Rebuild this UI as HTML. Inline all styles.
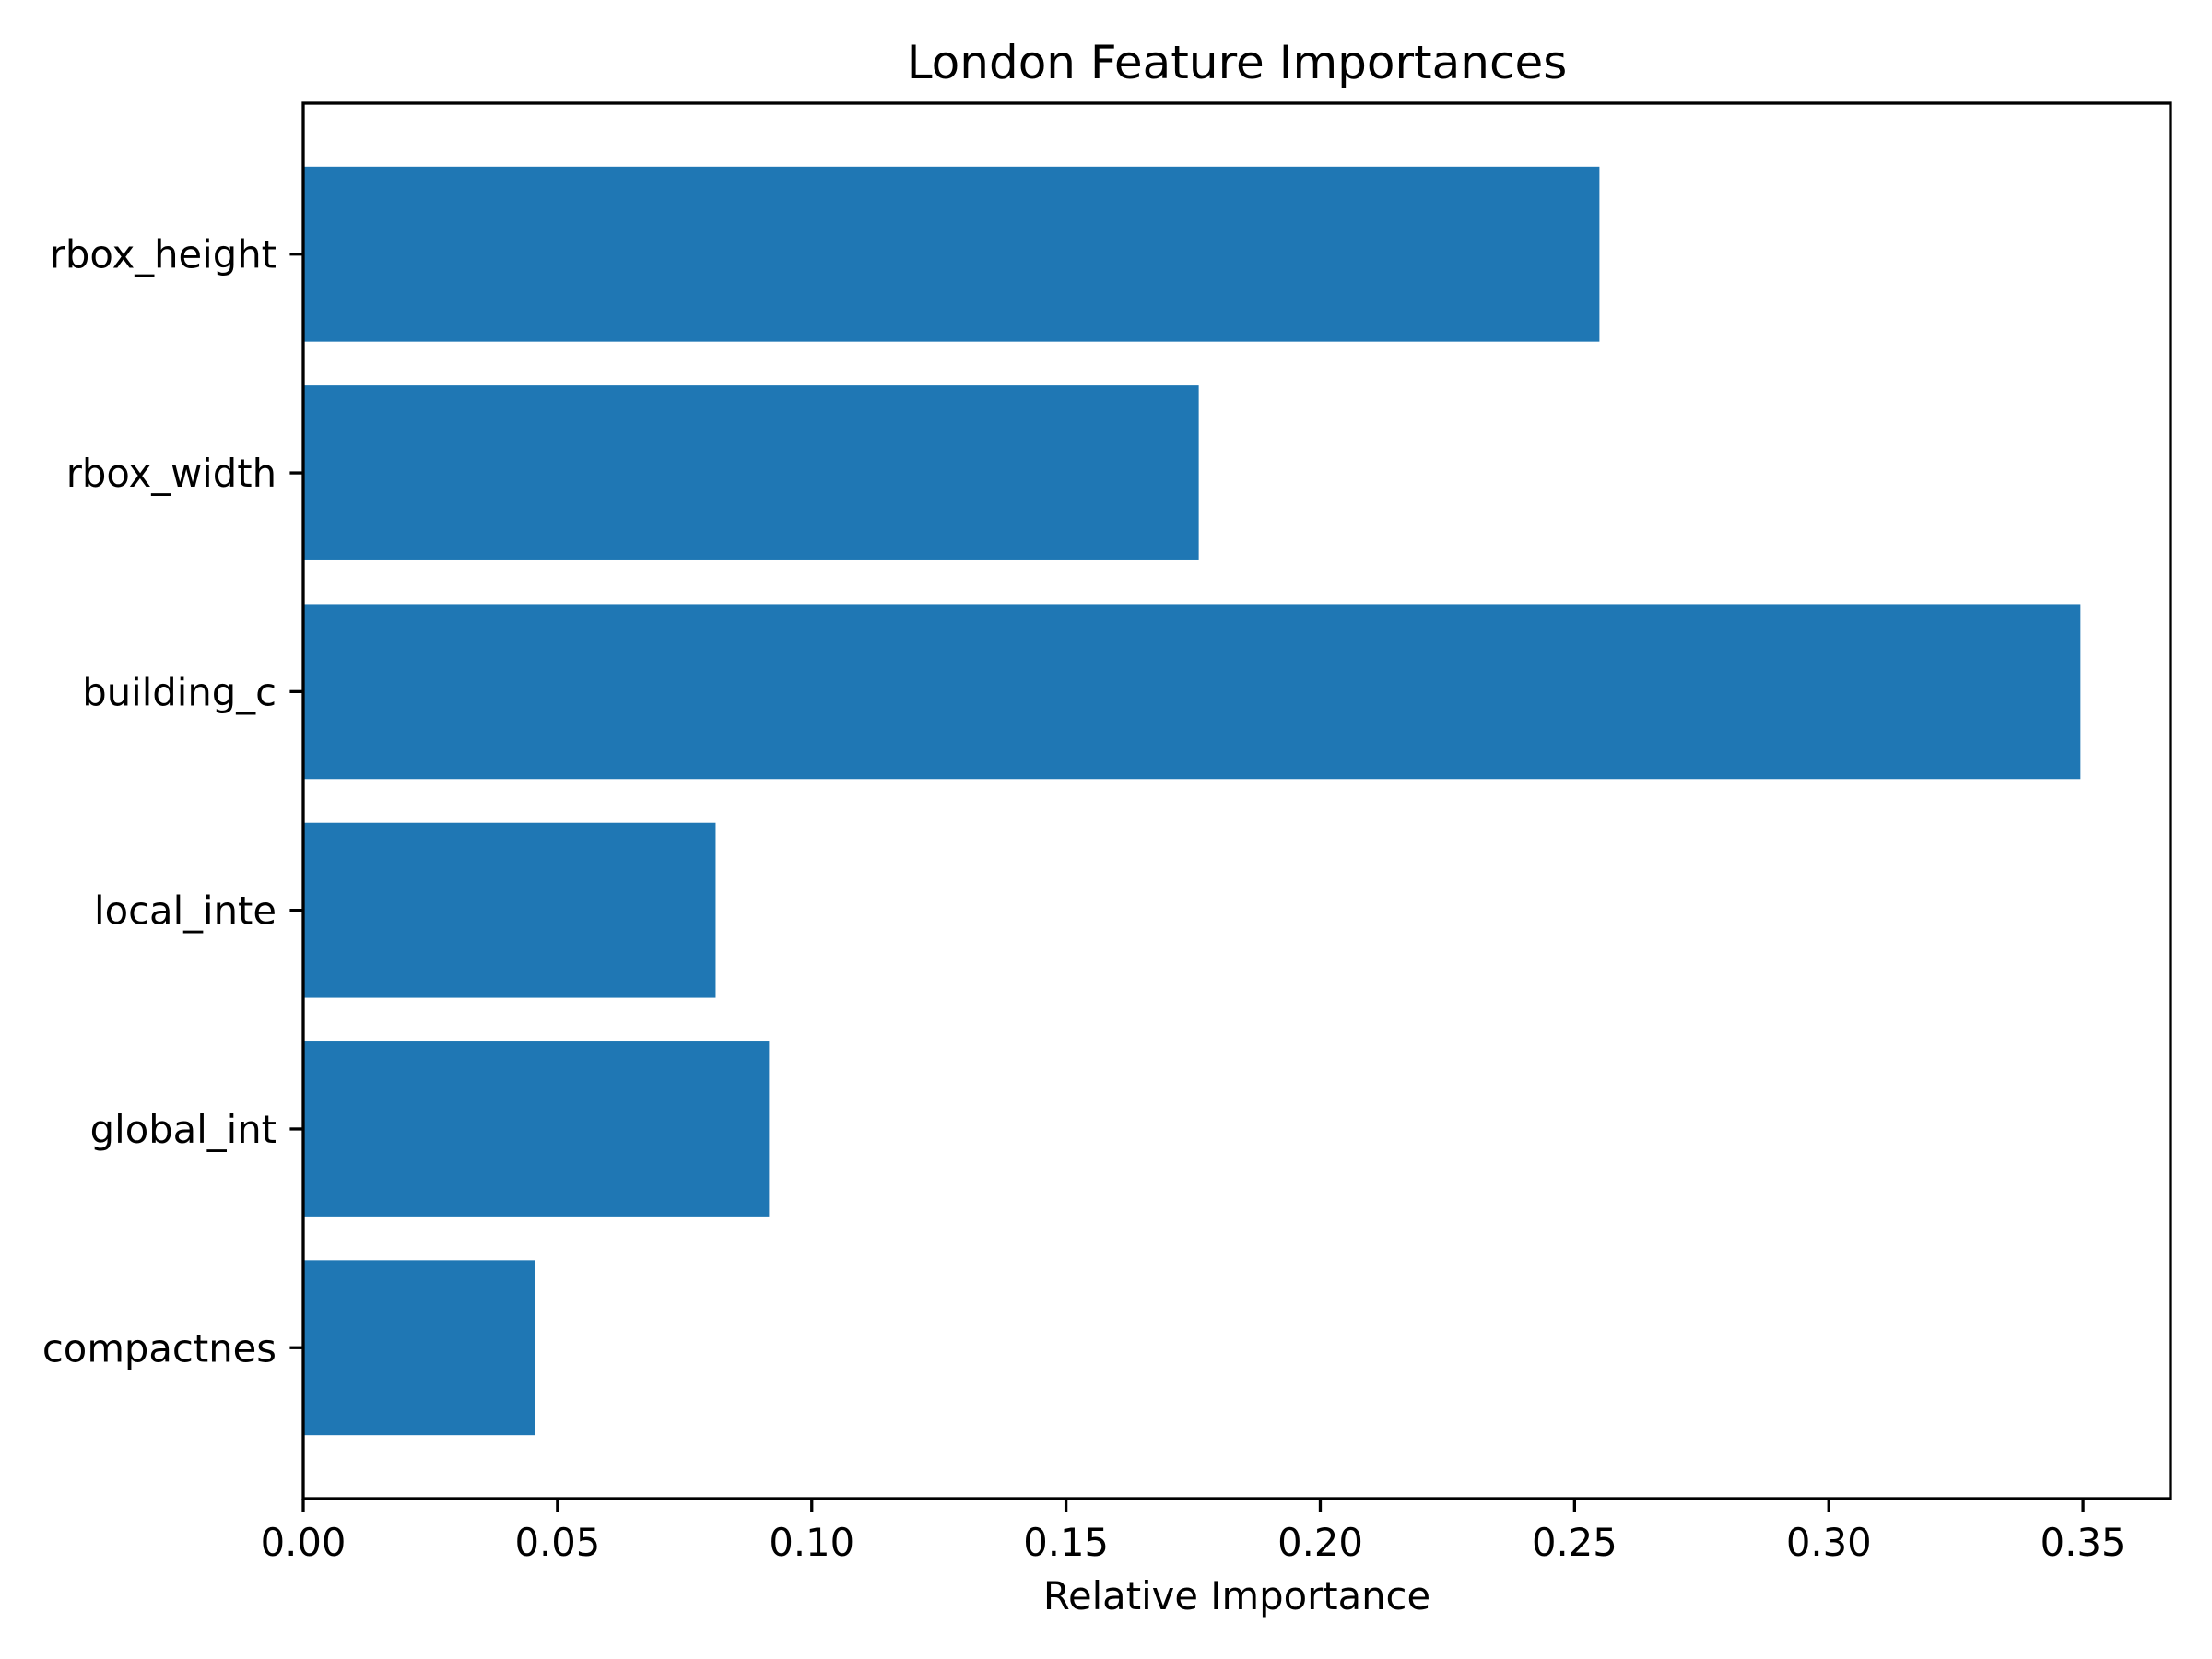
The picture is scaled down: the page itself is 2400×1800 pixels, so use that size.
<!DOCTYPE html>
<html><head><meta charset="utf-8"><style>html,body{margin:0;padding:0;background:#fff}svg{display:block}</style></head>
<body>
<svg id="chart" width="2400" height="1800" viewBox="0 0 2400 1800" xmlns="http://www.w3.org/2000/svg" font-family="DejaVu Sans, Liberation Sans, sans-serif">
<rect width="2400" height="1800" fill="#fff"/>
<text x="1342" y="85" font-size="50" text-anchor="middle" fill="#000">London Feature Importances</text>
<g id="bars"></g>
<g id="axes"></g>
<text x="1342" y="1746" font-size="41.7" text-anchor="middle" fill="#000">Relative Importance</text>
</svg>
<script>
const categories = ["rbox_height","rbox_width","building_c","local_inte","global_int","compactnes"];
const values = [0.2549, 0.1761, 0.3495, 0.0811, 0.0916, 0.0456];
const xTicks = [0, 0.05, 0.10, 0.15, 0.20, 0.25, 0.30, 0.35];
const xTickLabels = ["0.00","0.05","0.10","0.15","0.20","0.25","0.30","0.35"];

const L=329, R=2355, T=112, B=1626;
const xMax=0.3672;
const x = v => L + v/xMax*(R-L);
const n = categories.length;
const yMin=-0.69, yMax=n-1+0.69;
const y = i => T + (i - yMin)/(yMax-yMin)*(B-T);
const bandH = (B-T)/(yMax-yMin);
const NS="http://www.w3.org/2000/svg";
const bars=document.getElementById('bars'), axes=document.getElementById('axes');
function mk(tag, attrs, parent){const e=document.createElementNS(NS,tag);for(const k in attrs)e.setAttribute(k,attrs[k]);parent.appendChild(e);return e;}
values.forEach((v,i)=>{
  const r=mk('rect',{x:x(0),y:y(i)-0.4*bandH,width:x(v)-x(0),height:0.8*bandH,fill:'#1f77b4'},bars);
  
  
  const t=mk('line',{x1:L-14.6,x2:L,y1:y(i),y2:y(i),stroke:'#000','stroke-width':3.3},axes);
  
  
  const lb=mk('text',{x:L-29,y:y(i)+15,'font-size':41.7,'text-anchor':'end',fill:'#000'},axes);
  lb.textContent=categories[i];
  
  
});
xTicks.forEach((v,i)=>{
  const t=mk('line',{x1:x(v),x2:x(v),y1:B,y2:B+14.6,stroke:'#000','stroke-width':3.3},axes);
  
  
  const lb=mk('text',{x:x(v),y:B+62,'font-size':41.7,'text-anchor':'middle',fill:'#000'},axes);
  lb.textContent=xTickLabels[i];
  
  
});
const fr=mk('rect',{x:L,y:T,width:R-L,height:B-T,fill:'none',stroke:'#000','stroke-width':3.3},axes);


</script>
</body></html>
